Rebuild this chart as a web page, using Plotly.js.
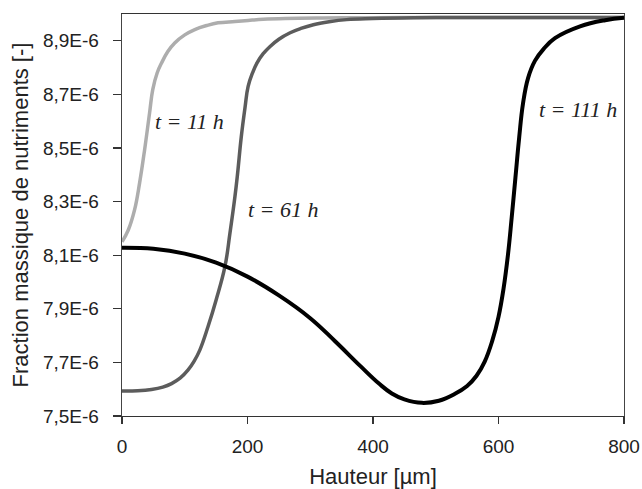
<!DOCTYPE html>
<html>
<head>
<meta charset="utf-8">
<script src="https://cdn.plot.ly/plotly-3.0.1.min.js"></script>
<style>html,body{margin:0;padding:0;background:#fff;}#chart{width:642px;height:489px;}</style>
</head>
<body>
<div id="chart"></div>
<script>
// Hauteur [µm]
const x11 = [0, 10, 20, 28, 36, 44, 49, 56, 63, 73, 84, 100, 116, 135, 153, 180, 201, 225, 260, 320, 400, 500, 600, 700, 800];
// Fraction massique (×1E-6)
const y11 = [8.150, 8.194, 8.269, 8.369, 8.493, 8.632, 8.718, 8.780, 8.817, 8.860, 8.892, 8.922, 8.942, 8.957, 8.967, 8.972, 8.976, 8.980, 8.983, 8.985, 8.986, 8.987, 8.987, 8.987, 8.987];

const x61 = [0, 25, 47, 65, 79, 93, 105, 115, 124, 137, 150, 164, 172, 180, 184, 190, 196, 201, 208, 215, 225, 236, 250, 268, 285, 305, 330, 358, 400, 464, 550, 650, 800];
const y61 = [7.593, 7.594, 7.599, 7.608, 7.621, 7.642, 7.671, 7.705, 7.746, 7.833, 7.933, 8.057, 8.182, 8.319, 8.400, 8.540, 8.650, 8.730, 8.780, 8.817, 8.852, 8.879, 8.906, 8.930, 8.946, 8.960, 8.971, 8.979, 8.983, 8.986, 8.987, 8.987, 8.987];

const x111 = [0, 50, 100, 150, 200, 250, 300, 340, 380, 410, 430, 450, 478, 505, 530, 550, 565, 578, 590, 600, 608, 615, 621, 627, 633, 639, 647, 658, 672, 690, 730, 770, 800];
const y111 = [8.128, 8.124, 8.106, 8.072, 8.020, 7.950, 7.865, 7.778, 7.686, 7.620, 7.584, 7.562, 7.549, 7.557, 7.582, 7.612, 7.650, 7.703, 7.780, 7.870, 7.975, 8.100, 8.240, 8.390, 8.540, 8.665, 8.760, 8.825, 8.870, 8.910, 8.954, 8.977, 8.986];

const seriesNames = ['t = 11 h', 't = 61 h', 't = 111 h'];
const labelX = [108, 257, 726];
const labelY = [8.598, 8.269, 8.643];

const yTickVals = [7.5, 7.7, 7.9, 8.1, 8.3, 8.5, 8.7, 8.9];
const yTickText = ['7,5E-6', '7,7E-6', '7,9E-6', '8,1E-6', '8,3E-6', '8,5E-6', '8,7E-6', '8,9E-6'];
const xTickVals = [0, 200, 400, 600, 800];

const scale = v => v.map(a => a * 1e-6);

const colors = ['#adadad', '#5c5c5c', '#000000'];
const widths = [3.5, 3.5, 4];
const xs = [x11, x61, x111];
const ys = [y11, y61, y111];

const traces = xs.map((x, i) => ({
  x: x, y: scale(ys[i]), type: 'scatter', mode: 'lines', name: seriesNames[i],
  line: {color: colors[i], width: widths[i], shape: 'spline', smoothing: 1.2},
  hoverinfo: 'skip'
}));

const annFont = {family: 'Liberation Serif, serif', size: 22, color: '#222', style: 'italic'};
const annotations = seriesNames.map((s, i) => ({
  x: labelX[i], y: labelY[i] * 1e-6, xref: 'x', yref: 'y', text: s,
  showarrow: false, font: annFont, xanchor: 'center', yanchor: 'middle'
}));

const tickFont = {family: 'Liberation Sans, Arial, sans-serif', size: 19, color: '#222'};
const titleFont = {family: 'Liberation Sans, Arial, sans-serif', size: 22, color: '#222'};

const layout = {
  width: 642, height: 489,
  margin: {l: 122, r: 18, t: 14, b: 73},
  paper_bgcolor: '#fff', plot_bgcolor: '#fff',
  showlegend: false,
  xaxis: {
    range: [0, 800], tickvals: xTickVals, ticks: 'outside', ticklen: 7, tickwidth: 1.3, tickcolor: '#333',
    showgrid: false, zeroline: false, showline: true, mirror: true, linecolor: '#333', linewidth: 1.3,
    tickfont: tickFont, ticklabelstandoff: 6,
    title: {text: 'Hauteur [µm]', font: titleFont, standoff: 12}
  },
  yaxis: {
    range: [7.5e-6, 9.0e-6], tickvals: scale(yTickVals), ticktext: yTickText, ticks: 'outside', ticklen: 8, tickwidth: 1.3, tickcolor: '#333',
    showgrid: false, zeroline: false, showline: true, mirror: true, linecolor: '#444', linewidth: 1.3,
    tickfont: tickFont, ticklabelstandoff: 10,
    title: {text: 'Fraction massique de nutriments [-]', font: titleFont, standoff: 8}
  },
  annotations: annotations
};

Plotly.newPlot('chart', traces, layout, {displayModeBar: false, staticPlot: true});
</script>
</body>
</html>
